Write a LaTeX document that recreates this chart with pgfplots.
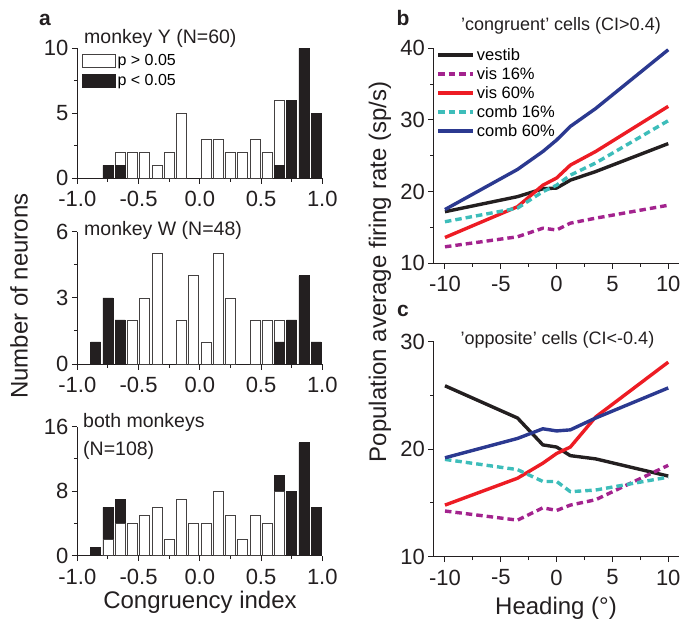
\documentclass[border=0pt]{standalone}
\usepackage{fontspec}
\setmainfont{Liberation Sans}
\usepackage{pgfplots}
\pgfplotsset{compat=1.18}

\definecolor{cmag}{HTML}{A3238E}
\definecolor{cred}{HTML}{ED1C24}
\definecolor{ccyan}{HTML}{3DBDBA}
\definecolor{cblue}{HTML}{2B3990}
\definecolor{cblk}{HTML}{231F20}

\pgfplotsset{
  base/.style={
    scale only axis, anchor=south west, clip=false,
    axis x line*=bottom, axis y line*=left,
    tick align=outside,
    major tick length=5.5pt, minor tick length=3.5pt,
    axis line style={line width=1pt, cblk},
    tick style={line width=1pt, cblk},
    ticklabel style={font=\fontsize{22}{26}\selectfont, text=cblk},
    xticklabel style={yshift=-4pt},
  },
  histo/.style={
    base, width=245pt, xmin=-1, xmax=1, ymin=0,
    xtick={-1,-0.5,0,0.5,1}, xticklabels={-1.0,-0.5,0.0,0.5,1.0},
    minor xtick={-0.75,-0.25,0.25,0.75},
  },
  wbar/.style={ybar, bar width=0.082, bar shift=0pt, fill=white, draw=cblk!85, line width=0.7pt},
  bbar/.style={ybar, bar width=0.082, bar shift=0pt, fill=cblk, draw=cblk, line width=0.7pt},
  lines/.style={
    base, width=245.6pt, height=215pt, xmin=-11, xmax=11,
    xtick={-10,-5,0,5,10}, xticklabels={-10,-5,0,5,10},
    minor xtick={-7.5,-2.5,2.5,7.5},
  },
  lvest/.style={cblk, line width=3.4pt, line join=round, no markers},
  lv16/.style={cmag, line width=3.4pt, dash pattern=on 6.5pt off 4pt, line join=round, no markers},
  lv60/.style={cred, line width=3.4pt, line join=round, no markers},
  lc16/.style={ccyan, line width=3.4pt, dash pattern=on 6.5pt off 4pt, line join=round, no markers},
  lc60/.style={cblue, line width=3.4pt, line join=round, no markers},
}

\begin{document}
\begin{tikzpicture}
\useasboundingbox (0,0) rectangle (691pt,630pt);

% ---------- a: monkey Y ----------
\begin{axis}[histo, at={(77.3pt,451.7pt)}, height=130pt, ymax=10,
  ytick={0,5,10}, yticklabels={0,5,10}, minor ytick={2.5,7.5},
  legend style={at={(rel axis cs:0.018,0.97)}, anchor=north west, draw=none, fill=none,
    font=\fontsize{16}{19}\selectfont, inner sep=0pt, row sep=3pt,
    /tikz/every even column/.append style={column sep=4pt}},
  legend cell align=left,
  legend image code/.code={\draw[#1] (0pt,-6.5pt) rectangle (33pt,6.5pt);},
]
\addplot[wbar] coordinates {(-0.65,2) (-0.55,2) (-0.45,2) (-0.35,1) (-0.25,2) (-0.15,5)
  (0.05,3) (0.15,3) (0.25,2) (0.35,2) (0.45,3) (0.55,2) (0.65,6)};
\addplot[bbar] coordinates {(-0.75,1) (-0.65,1) (0.65,1) (0.75,6) (0.85,10) (0.95,5)};
\legend{p > 0.05, p < 0.05}
\end{axis}

% ---------- a: monkey W ----------
\begin{axis}[histo, at={(77.3pt,266pt)}, height=132.3pt, ymax=6,
  ytick={0,3,6}, yticklabels={0,3,6}, minor ytick={1.5,4.5}]
\addplot[wbar] coordinates {(-0.55,2) (-0.45,3) (-0.35,5) (-0.15,2) (-0.05,4) (0.05,1)
  (0.15,5) (0.25,3) (0.45,2) (0.55,2) (0.65,2)};
\addplot[bbar] coordinates {(-0.85,1) (-0.75,3) (-0.65,2) (0.65,1) (0.75,2) (0.85,4) (0.95,1)};
\end{axis}

% ---------- a: both monkeys ----------
\begin{axis}[histo, at={(77.3pt,74.3pt)}, height=129pt, ymax=16,
  ytick={0,8,16}, yticklabels={0,8,16}, minor ytick={4,12}]
\addplot[bbar] coordinates {(-0.85,1) (-0.75,6) (-0.65,7) (0.65,10) (0.75,8) (0.85,14) (0.95,6)};
\addplot[wbar] coordinates {(-0.75,2) (-0.65,4) (-0.55,4) (-0.45,5) (-0.35,6) (-0.25,2) (-0.15,7)
  (-0.05,4) (0.05,4) (0.15,8) (0.25,5) (0.35,2) (0.45,5) (0.55,4) (0.65,8)};
\end{axis}

% ---------- b ----------
\begin{axis}[lines, at={(433.8pt,366.7pt)}, ymin=10, ymax=40,
  ytick={10,20,30,40}, yticklabels={10,20,30,40}, minor ytick={15,25,35},
  legend style={at={(rel axis cs:0.01,1.01)}, anchor=north west, draw=none, fill=none,
    font=\fontsize{16.5}{19}\selectfont, inner sep=0pt, row sep=1.5pt,
    /tikz/every even column/.append style={column sep=3pt}},
  legend cell align=left,
  legend image code/.code={\draw[#1] (0pt,0pt) -- (35pt,0pt);},
]
\addplot[lvest] coordinates {(-10,17.2) (-3.5,19.3) (-1.23,20.4) (0,20.5) (1.23,21.6) (3.5,22.8) (10,26.7)};
\addplot[lv16] coordinates {(-10,12.3) (-3.5,13.7) (-1.23,14.9) (0,14.65) (1.23,15.6) (3.5,16.3) (10,18.1)};
\addplot[lv60] coordinates {(-10,13.6) (-3.5,17.9) (-1.23,20.9) (0,21.9) (1.23,23.7) (3.5,25.6) (10,31.9)};
\addplot[lc16] coordinates {(-10,15.8) (-3.5,17.7) (-1.23,20.0) (0,20.9) (1.23,22.3) (3.5,24.0) (10,29.9)};
\addplot[lc60] coordinates {(-10,17.5) (-3.5,23.1) (-1.23,25.6) (0,27.2) (1.23,29.1) (3.5,31.6) (10,39.8)};
\legend{vestib, vis 16\%, vis 60\%, comb 16\%, comb 60\%}
\end{axis}

% ---------- c ----------
\begin{axis}[lines, at={(433.8pt,73.3pt)}, ymin=10, ymax=30,
  ytick={10,20,30}, yticklabels={10,20,30}, minor ytick={15,25}]
\addplot[lvest] coordinates {(-10,25.9) (-3.5,22.9) (-1.23,20.4) (0,20.2) (1.23,19.4) (3.5,19.1) (10,17.5)};
\addplot[lv16] coordinates {(-10,14.25) (-3.5,13.4) (-1.23,14.55) (0,14.3) (1.23,14.8) (3.5,15.3) (10,18.5)};
\addplot[lv60] coordinates {(-10,14.8) (-3.5,17.3) (-1.23,18.7) (0,19.6) (1.23,20.2) (3.5,23.0) (10,28.1)};
\addplot[lc16] coordinates {(-10,19.05) (-3.5,18.1) (-1.23,17.0) (0,17.0) (1.23,16.05) (3.5,16.2) (10,17.4)};
\addplot[lc60] coordinates {(-10,19.2) (-3.5,21.0) (-1.23,21.9) (0,21.7) (1.23,21.8) (3.5,22.9) (10,25.7)};
\end{axis}

% ---------- texts ----------
\begin{scope}[every node/.style={inner sep=0pt, text=cblk}]
\node[font=\fontsize{21}{25}\selectfont\bfseries] at (45pt,610pt) {a};
\node[font=\fontsize{21}{25}\selectfont\bfseries] at (403pt,612pt) {b};
\node[font=\fontsize{21}{25}\selectfont\bfseries] at (403pt,319pt) {c};

\node[anchor=base west, font=\fontsize{19.5}{23}\selectfont] at (84pt,586pt) {monkey Y (N=60)};
\node[anchor=base west, font=\fontsize{19.5}{23}\selectfont] at (84pt,394pt) {monkey W (N=48)};
\node[anchor=base west, font=\fontsize{19.5}{23}\selectfont] at (83pt,203pt) {both monkeys};
\node[anchor=base west, font=\fontsize{19.5}{23}\selectfont] at (83pt,175pt) {(N=108)};

\node[anchor=base, font=\fontsize{18}{22}\selectfont] at (561pt,599pt) {'congruent' cells (CI>0.4)};
\node[anchor=base, font=\fontsize{18}{22}\selectfont] at (557.5pt,285pt) {'opposite' cells (CI<-0.4)};

\node[anchor=base, font=\fontsize{24}{28}\selectfont] at (200pt,22pt) {Congruency index};
\node[anchor=base, font=\fontsize{24}{28}\selectfont] at (556pt,16pt) {Heading (°)};

\node[rotate=90, font=\fontsize{24}{28}\selectfont] at (19pt,334pt) {Number of neurons};
\node[rotate=90, font=\fontsize{24}{28}\selectfont] at (380pt,358pt) {Population average firing rate (sp/s)};
\end{scope}
\end{tikzpicture}
\end{document}
